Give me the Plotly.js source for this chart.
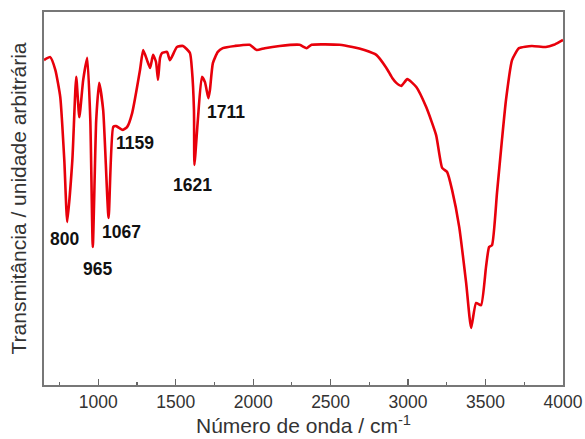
<!DOCTYPE html>
<html>
<head>
<meta charset="utf-8">
<script src="https://cdn.plot.ly/plotly-3.0.1.min.js"></script>
<style>html,body{margin:0;padding:0;background:#fff}#chart{width:585px;height:439px}</style>
</head>
<body>
<div id="chart"></div>
<script>
// Wavenumber (cm^-1)
const wavenumber = [650, 690, 723, 755, 781, 800, 833, 858, 878, 903, 929, 949, 965, 987, 1006, 1032, 1067, 1097, 1116, 1159, 1187, 1219, 1270, 1290, 1315, 1335, 1354, 1373, 1386, 1399, 1412, 1444, 1463, 1508, 1547, 1592, 1605, 1618, 1621, 1643, 1669, 1689, 1711, 1721, 1740, 1772, 1804, 1882, 1978, 2023, 2075, 2171, 2300, 2345, 2377, 2557, 2641, 2718, 2795, 2860, 2898, 2924, 2956, 2995, 3053, 3117, 3181, 3220, 3252, 3284, 3330, 3375, 3407, 3439, 3471, 3503, 3523, 3542, 3574, 3606, 3632, 3671, 3716, 3799, 3889, 3941, 3986, 4000];
// Transmittance (arbitrary units)
const transmittance = [87.1, 87.9, 84.5, 77.2, 60.3, 43.7, 60.3, 82.6, 71.8, 81.8, 87.7, 71.0, 37.0, 71.0, 81.0, 73.7, 44.8, 69.2, 69.4, 68.4, 69.2, 72.9, 84.5, 89.8, 87.1, 85.0, 88.5, 86.6, 81.8, 87.7, 89.0, 89.3, 87.1, 90.6, 90.9, 89.0, 84.5, 73.7, 59.0, 71.0, 82.6, 81.2, 76.9, 79.1, 86.3, 89.3, 90.3, 90.9, 91.2, 89.8, 90.3, 90.9, 91.2, 90.3, 91.2, 91.2, 90.6, 89.8, 88.5, 85.0, 82.3, 81.0, 80.2, 82.0, 79.9, 74.5, 67.0, 58.2, 57.1, 52.3, 42.4, 27.3, 15.3, 22.0, 21.4, 31.6, 37.0, 37.5, 51.5, 65.7, 76.4, 87.1, 90.3, 90.9, 90.6, 91.2, 92.2, 92.5];
// Peak labels
const peakLabels = ["800", "965", "1067", "1159", "1621", "1711"];
const peakLabelX = [781, 994, 1148, 1238, 1611, 1824];
const peakLabelY = [39.1, 31.1, 41.0, 64.9, 53.6, 73.2];
const xTicks = [1000, 1500, 2000, 2500, 3000, 3500, 4000];

const annotations = peakLabels.map((t, i) => ({
  x: peakLabelX[i], y: peakLabelY[i], text: "<b>" + t + "</b>",
  showarrow: false, xanchor: "center", yanchor: "middle",
  font: {family: "Liberation Sans, Arial, sans-serif", size: 17.5, color: "#111"}
}));

Plotly.newPlot("chart", [{
  x: wavenumber, y: transmittance, type: "scatter", mode: "lines",
  line: {color: "#e8000b", width: 2.6, shape: "spline", smoothing: 0.5}, hoverinfo: "skip"
}], {
  width: 585, height: 439,
  margin: {l: 44, r: 22, t: 12, b: 54},
  paper_bgcolor: "#fff", plot_bgcolor: "#fff",
  showlegend: false,
  font: {family: "Liberation Sans, Arial, sans-serif", color: "#333"},
  xaxis: {
    range: [650, 4000], tickvals: xTicks, ticktext: xTicks.map(String),
    ticks: "inside", ticklen: 6, tickwidth: 1.2, tickcolor: "#666",
    minor: {dtick: 250, tick0: 750, ticks: "inside", ticklen: 3, tickcolor: "#666"},
    showgrid: false, zeroline: false,
    showline: true, linecolor: "#777", linewidth: 1.6, mirror: true,
    tickfont: {size: 17.5, color: "#333"},
    title: {text: "Número de onda / cm<sup>-1</sup>", font: {size: 21, color: "#333"}, standoff: 2}
  },
  yaxis: {
    range: [0, 100], showticklabels: false, ticks: "",
    showgrid: false, zeroline: false,
    showline: true, linecolor: "#777", linewidth: 1.6, mirror: true,
    title: {text: "Transmitância / unidade arbitrária", font: {size: 21, color: "#333"}, standoff: 10}
  },
  annotations: annotations
}, {staticPlot: true, displayModeBar: false});
</script>
</body>
</html>
